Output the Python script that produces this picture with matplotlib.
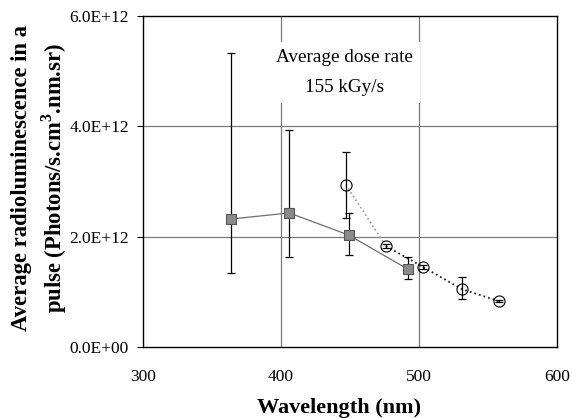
import matplotlib
matplotlib.use("Agg")
import matplotlib.pyplot as plt
import numpy as np

plt.rcParams['font.family'] = ['Liberation Serif', 'DejaVu Serif']
plt.rcParams['mathtext.fontset'] = 'custom'
plt.rcParams['mathtext.rm'] = 'Liberation Serif'
plt.rcParams['mathtext.bf'] = 'Liberation Serif:bold'

# Series 1: filled squares (solid line)
sq_wl = [364, 406, 449, 492]
sq_val = [2.32e12, 2.43e12, 2.03e12, 1.41e12]
sq_err_lo = [0.98e12, 0.80e12, 0.36e12, 0.18e12]
sq_err_hi = [3.01e12, 1.50e12, 0.40e12, 0.22e12]

# Series 2: open circles (dotted line)
ci_wl = [447, 476, 503, 531, 558]
ci_val = [2.94e12, 1.83e12, 1.45e12, 1.05e12, 0.83e12]
ci_err_lo = [0.60e12, 0.04e12, 0.04e12, 0.18e12, 0.02e12]
ci_err_hi = [0.59e12, 0.04e12, 0.04e12, 0.22e12, 0.02e12]

x_ticks = [300, 400, 500, 600]
y_ticks = [0, 2e12, 4e12, 6e12]
y_tick_labels = ['0.0E+00', '2.0E+12', '4.0E+12', '6.0E+12']

fig = plt.figure(figsize=(5.72, 4.18), dpi=100)
ax = fig.add_axes([143/572, 1-347/418, (557-143)/572, (347-16)/418])

ax.set_xlim(300, 600)
ax.set_ylim(0, 6e12)

# gridlines
for gx in x_ticks[1:-1]:
    ax.axvline(gx, color='#7a7a7a', lw=0.9, zorder=0)
for gy in y_ticks[1:-1]:
    ax.axhline(gy, color='#7a7a7a', lw=0.9, zorder=0)

# squares
ax.errorbar(sq_wl, sq_val, yerr=[sq_err_lo, sq_err_hi], fmt='none',
            ecolor='black', elinewidth=0.9, capsize=3.2, capthick=0.9, zorder=3)
ax.plot(sq_wl, sq_val, '-', color='#6e6e6e', lw=0.9, zorder=2)
ax.plot(sq_wl, sq_val, 's', ms=6.5, mfc='#8a8a8a', mec='#555555', mew=0.8,
        ls='none', zorder=4)

# circles
ax.errorbar(ci_wl, ci_val, yerr=[ci_err_lo, ci_err_hi], fmt='none',
            ecolor='black', elinewidth=0.9, capsize=3.2, capthick=0.9, zorder=5)
ax.plot(ci_wl[:2], ci_val[:2], ':', color='#9a9a9a', lw=1.2, zorder=2)
ax.plot(ci_wl[1:], ci_val[1:], ':', color='#222222', lw=1.3, zorder=2)
ax.plot(ci_wl, ci_val, 'o', ms=8, mfc='none', mec='black', mew=0.8,
        ls='none', zorder=6)

for s in ax.spines.values():
    s.set_color('black')
    s.set_linewidth(1.0)

ax.set_xticks(x_ticks)
ax.set_xticklabels([str(v) for v in x_ticks])
ax.set_yticks(y_ticks)
ax.set_yticklabels(y_tick_labels)
ax.tick_params(axis='x', length=0, pad=16, labelsize=12.5)
ax.tick_params(axis='y', length=4, direction='out', pad=6, labelsize=12.5)

ax.text(446, 4.98e12, 'Average dose rate\n155 kGy/s', ha='center', va='center',
        fontsize=13.8, linespacing=2.0,
        bbox=dict(facecolor='white', edgecolor='none', pad=5), zorder=7)

fig.text(339/572, 1-408/418, 'Wavelength (nm)', ha='center', va='center',
         fontsize=16, fontweight='bold')
fig.text(40/572, 1-178/418,
         'Average radioluminescence in a\npulse (Photons/s.cm$^{\\mathbf{3}}$.nm.sr)',
         ha='center', va='center', rotation=90, fontsize=16.3,
         fontweight='bold', linespacing=1.35)

fig.savefig('out.png', dpi=100)
